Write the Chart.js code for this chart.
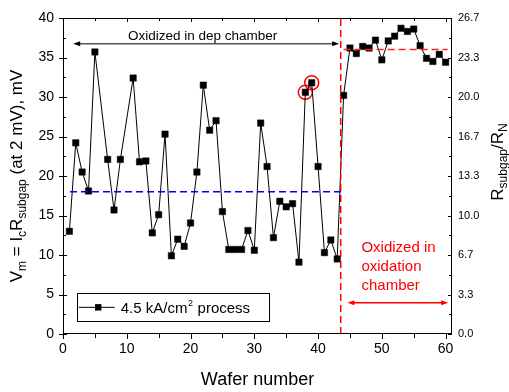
<!DOCTYPE html>
<html><head><meta charset="utf-8">
<script src="https://cdn.jsdelivr.net/npm/chart.js@4/dist/chart.umd.min.js"></script>
<style>html,body{margin:0;padding:0;background:#fff}#wrap{width:509px;height:392px}</style>
</head><body><div id="wrap"><canvas id="c" width="509" height="392"></canvas></div>
<script>
// ---- data ----
const wafers = [1,2,3,4,5,7,8,9,11,12,13,14,15,16,17,18,19,20,21,22,23,24,25,26,27,28,29,30,
  31,32,33,34,35,36,37,38,39,40,41,42,43,44,45,46,47,48,49,50,51,52,53,54,55,56,57,58,59,60];
const vm = [13,24.2,20.5,18.1,35.7,22.1,15.7,22.1,32.4,21.8,21.9,12.8,15.1,25.3,9.9,12.0,11.1,14.05,
  20.5,31.5,25.8,27.0,15.5,10.7,10.7,10.7,13.1,10.6,26.7,21.2,12.2,16.8,16.1,16.5,9.1,30.6,31.8,
  21.2,10.3,11.9,9.5,30.2,36.2,35.5,36.4,36.2,37.2,34.7,37.1,37.7,38.7,38.3,38.6,36.5,34.9,34.5,35.4,34.4];
const circledWafers = [38,39];
const xTicks = [0,10,20,30,40,50,60];
const yTicks = [0,5,10,15,20,25,30,35,40];
const rightTickLabels = ['0.0','3.3','6.7','10.0','13.3','16.7','20.0','23.3','26.7'];
const blueLevel = 18, blueFrom = 1.1, blueTo = 44.2;
const redLevel = 36, redFrom = 44, redTo = 60.3;
const splitWafer = 43.55;
const legendLabel = '4.5 kA/cm';
const FONT = "'Liberation Sans', Arial, sans-serif";

const pts = wafers.map((w,i)=>({x:w,y:vm[i]}));
const circPts = circledWafers.map(w=>({x:w,y:vm[wafers.indexOf(w)]}));

function rich(ctx, segs, x, y, rotate) {
  let total = 0;
  segs.forEach(s=>{ctx.font = s.size+'px '+FONT; s.w = ctx.measureText(s.t).width; total += s.w;});
  ctx.save();
  ctx.translate(x,y);
  if (rotate) ctx.rotate(-Math.PI/2);
  ctx.textBaseline='alphabetic'; ctx.textAlign='left';
  let p = -total/2;
  segs.forEach(s=>{ctx.font = s.size+'px '+FONT; ctx.fillText(s.t, p, s.dy||0); p += s.w;});
  ctx.restore();
}
function arrowHead(ctx, x, y, dir, len, hw) {
  ctx.beginPath();
  ctx.moveTo(x,y); ctx.lineTo(x-dir*len, y-hw); ctx.lineTo(x-dir*len, y+hw); ctx.closePath(); ctx.fill();
}

const deco = {
  id:'deco',
  afterDatasetsDraw(chart){
    const ctx = chart.ctx, a = chart.chartArea, X = chart.scales.x, Y = chart.scales.y, Y2 = chart.scales.y2;
    ctx.save();
    ctx.strokeStyle='#000'; ctx.lineWidth=1;
    ctx.strokeRect(a.left+0.5, a.top+0.5, a.right-a.left-1, a.bottom-a.top-1);
    ctx.beginPath();
    for (let v=0; v<=40.01; v+=2.5){
      const py = Math.round(Y.getPixelForValue(v))+0.5, major = (v%5===0);
      ctx.moveTo(a.left-(major?4:0), py); ctx.lineTo(a.left+(major?4:3), py);
    }
    const rmax = Y2.max;
    for (let i=0;i<=16;i++){
      const py = Math.round(Y2.getPixelForValue(i*rmax/16))+0.5;
      ctx.moveTo(a.right, py); ctx.lineTo(a.right-(i%2===0?4:3), py);
    }
    for (let v=0; v<=60; v+=5){
      const px = Math.round(X.getPixelForValue(v))+0.5, major=(v%10===0);
      ctx.moveTo(px, a.bottom); ctx.lineTo(px, a.bottom+(major?5:4));
      ctx.moveTo(px, a.top); ctx.lineTo(px, a.top+(major?4:3));
    }
    ctx.stroke();

    // top arrow: Oxidized in dep chamber
    const ay = Y.getPixelForValue(36.75), ax1 = X.getPixelForValue(1.6), ax2 = X.getPixelForValue(43.3);
    ctx.strokeStyle='#555'; ctx.lineWidth=1.5;
    ctx.beginPath(); ctx.moveTo(ax1+4, ay); ctx.lineTo(ax2-4, ay); ctx.stroke();
    ctx.fillStyle='#000';
    arrowHead(ctx, ax1, ay, -1, 7, 2.5); arrowHead(ctx, ax2, ay, 1, 7, 2.5);
    ctx.font='13.5px '+FONT; ctx.textAlign='center'; ctx.textBaseline='alphabetic';
    ctx.fillText('Oxidized in dep chamber', X.getPixelForValue(21.9), Y.getPixelForValue(37.2));

    // red annotation
    ctx.fillStyle='#ff0000'; ctx.strokeStyle='#ff0000'; ctx.lineWidth=1.5;
    ctx.font='15px '+FONT; ctx.textAlign='left';
    const tx = X.getPixelForValue(46.8);
    ctx.fillText('Oxidized in', tx, Y.getPixelForValue(10.38));
    ctx.fillText('oxidation', tx, Y.getPixelForValue(7.97));
    ctx.fillText('chamber', tx, Y.getPixelForValue(5.63));
    const ry = Y.getPixelForValue(3.96), rx1 = X.getPixelForValue(44.6), rx2 = X.getPixelForValue(60.4);
    ctx.beginPath(); ctx.moveTo(rx1+4, ry); ctx.lineTo(rx2-4, ry); ctx.stroke();
    arrowHead(ctx, rx1, ry, -1, 7, 2.5); arrowHead(ctx, rx2, ry, 1, 7, 2.5);

    // legend
    ctx.strokeStyle='#000'; ctx.lineWidth=1; ctx.fillStyle='#000';
    const lx1 = X.getPixelForValue(2.15), lx2 = X.getPixelForValue(32.3);
    const ly1 = Y.getPixelForValue(5.15), ly2 = Y.getPixelForValue(1.6);
    ctx.strokeRect(Math.round(lx1)+0.5, Math.round(ly1)+0.5, Math.round(lx2-lx1), Math.round(ly2-ly1));
    const lmy = (ly1+ly2)/2;
    ctx.beginPath(); ctx.moveTo(lx1+2, lmy); ctx.lineTo(lx1+38, lmy); ctx.stroke();
    ctx.fillRect(lx1+21.5-3.2, lmy-3.2, 6.4, 6.4);
    ctx.font='15px '+FONT; ctx.textAlign='left'; ctx.textBaseline='alphabetic';
    let lt = lx1+44;
    ctx.fillText(legendLabel, lt, lmy+5.5); lt += ctx.measureText(legendLabel).width;
    ctx.font='9px '+FONT; ctx.fillText('2', lt+0.5, lmy-1.5); lt += ctx.measureText('2').width+1;
    ctx.font='15px '+FONT; ctx.fillText(' process', lt, lmy+5.5);

    // axis titles
    ctx.fillStyle='#000';
    rich(ctx, [{t:'V',size:17},{t:'m',size:12,dy:4},{t:' = I',size:17},{t:'c',size:12,dy:4},{t:'R',size:17},
      {t:'subgap',size:12,dy:4},{t:' (at 2 mV), mV',size:17}], 21.5, (a.top+a.bottom)/2, true);
    rich(ctx, [{t:'R',size:17},{t:'subgap',size:12,dy:4},{t:'/R',size:17},{t:'N',size:12,dy:4}], 503, 162, true);
    rich(ctx, [{t:'Wafer number',size:18}], (a.left+a.right)/2, 385, false);
    ctx.restore();
  }
};

new Chart(document.getElementById('c'), {
  type:'scatter',
  data:{datasets:[
    {data:[{x:blueFrom,y:blueLevel},{x:blueTo,y:blueLevel}], showLine:true, borderColor:'#0000ff', borderWidth:1.5, borderDash:[7,4], pointRadius:0},
    {data:[{x:redFrom,y:redLevel},{x:redTo,y:redLevel}], showLine:true, borderColor:'#ff2020', borderWidth:1.5, borderDash:[7,4], pointRadius:0},
    {data:[{x:splitWafer,y:0},{x:splitWafer,y:40}], showLine:true, borderColor:'#ff0000', borderWidth:1.5, borderDash:[7,4], pointRadius:0},
    {data:pts, showLine:true, borderColor:'#000', borderWidth:1, pointStyle:'rect', pointRadius:4.5,
     pointBackgroundColor:'#000', pointBorderColor:'#000', pointBorderWidth:0.5},
    {data:circPts, showLine:false, pointStyle:'circle', pointRadius:7, pointBorderColor:'#ff0000',
     pointBackgroundColor:'rgba(0,0,0,0)', pointBorderWidth:1.5}
  ]},
  options:{
    responsive:false, animation:false, devicePixelRatio:1,
    layout:{padding:{top:18,left:0,right:0,bottom:0}},
    plugins:{legend:{display:false}, tooltip:{enabled:false}},
    scales:{
      x:{type:'linear', position:'bottom', min:0, max:61,
         afterBuildTicks:s=>{s.ticks = xTicks.map(v=>({value:v}));},
         afterFit:s=>{s.height=58;},
         grid:{display:false, drawTicks:false}, border:{display:false},
         ticks:{padding:7, color:'#000', font:{family:FONT,size:14}, maxRotation:0}},
      y:{type:'linear', position:'left', min:0, max:40,
         afterBuildTicks:s=>{s.ticks = yTicks.map(v=>({value:v}));},
         afterFit:s=>{s.width=63;},
         grid:{display:false, drawTicks:false}, border:{display:false},
         ticks:{padding:9, color:'#000', font:{family:FONT,size:14}}},
      y2:{type:'linear', position:'right', min:0, max:80/3,
         afterBuildTicks:s=>{s.ticks = rightTickLabels.map((l,i)=>({value:i*(80/3)/(rightTickLabels.length-1)}));},
         afterFit:s=>{s.width=57;},
         grid:{display:false, drawTicks:false}, border:{display:false},
         ticks:{padding:6, color:'#000', font:{family:FONT,size:11},
           callback:(v,i)=>rightTickLabels[i]}}
    }
  },
  plugins:[deco]
});
</script></body></html>
